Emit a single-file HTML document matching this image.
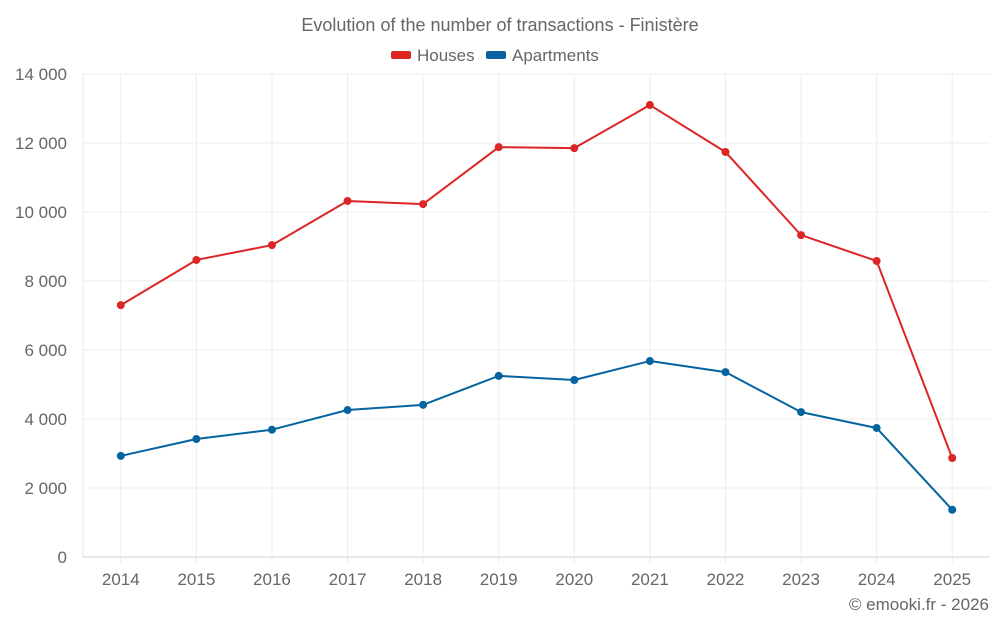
<!DOCTYPE html>
<html><head><meta charset="utf-8">
<style>
html,body{margin:0;padding:0;background:#fff;}
body{width:1000px;height:625px;overflow:hidden;font-family:"Liberation Sans",sans-serif;}
svg text{font-family:"Liberation Sans",sans-serif;fill:#666;}
</style></head>
<body>
<svg id="chart" width="1000" height="625" xmlns="http://www.w3.org/2000/svg">
  <text x="500" y="31" text-anchor="middle" font-size="18">Evolution of the number of transactions - Finistère</text>
  <g>
    <g>
      <rect x="391" y="51" width="20" height="8" rx="2" fill="#dc2626"></rect>
      <text x="417" y="61" font-size="17">Houses</text>
    </g>
    <g>
      <rect x="486" y="51" width="20" height="8" rx="2" fill="#05649f"></rect>
      <text x="512" y="61" font-size="17">Apartments</text>
    </g>
  </g>
  <g id="grid"></g>
  <g id="axes"></g>
  <g id="series"></g>
  <text x="989" y="610" text-anchor="end" font-size="17">© emooki.fr - 2026</text>
</svg>
<script>
const categories = ["2014","2015","2016","2017","2018","2019","2020","2021","2022","2023","2024","2025"];
const housesValues = [7300, 8610, 9040, 10320, 10230, 11880, 11850, 13100, 11740, 9330, 8580, 2870];
const apartmentsValues = [2930, 3420, 3690, 4260, 4410, 5250, 5130, 5680, 5360, 4200, 3740, 1370];
const yTicks = [0, 2000, 4000, 6000, 8000, 10000, 12000, 14000];
const yTickLabels = ["0", "2 000", "4 000", "6 000", "8 000", "10 000", "12 000", "14 000"];

const NS = "http://www.w3.org/2000/svg";
const plotLeft = 83, plotRight = 990, plotTop = 74, plotBottom = 557, yMax = 14000;
const band = (plotRight - plotLeft) / categories.length;
function xPos(i){ return plotLeft + band * (i + 0.5); }
function yPos(v){ return plotBottom - (v / yMax) * (plotBottom - plotTop); }
function mk(tag, attrs, parent){
  const e = document.createElementNS(NS, tag);
  for (const k in attrs) e.setAttribute(k, attrs[k]);
  parent.appendChild(e);
  return e;
}
const gridG = document.getElementById('grid');
const axesG = document.getElementById('axes');
const seriesG = document.getElementById('series');

const edge = mk('line', {x1:plotLeft, x2:plotLeft, y1:plotTop, y2:plotBottom, stroke:'#e8e8e8', 'stroke-width':1}, gridG);



yTicks.forEach((t, i) => {
  const y = yPos(t);
  const l = mk('line', {x1:plotLeft, x2:plotRight, y1:y, y2:y, stroke: t === 0 ? '#d0d0d0' : '#ececec', 'stroke-width':1}, gridG);
  
  
  const tx = mk('text', {x:67, y:y+6, 'text-anchor':'end', 'font-size':17}, axesG);
  tx.textContent = yTickLabels[i];
  
  
});
categories.forEach((c, i) => {
  const l = mk('line', {x1:xPos(i), x2:xPos(i), y1:plotTop, y2:plotBottom+6, stroke:'#ececec', 'stroke-width':1}, gridG);
  
  
  const tx = mk('text', {x:xPos(i), y:585, 'text-anchor':'middle', 'font-size':17}, axesG);
  tx.textContent = c;
  
  
});

function drawSeries(vals, color, name){
  const g = mk('g', {}, seriesG);
  
  
  const pts = vals.map((v, i) => xPos(i) + ',' + yPos(v)).join(' ');
  const pl = mk('polyline', {points:pts, fill:'none', stroke:color, 'stroke-width':2, 'stroke-linejoin':'round'}, g);
  
  
  vals.forEach((v, i) => {
    const c = mk('circle', {cx:xPos(i), cy:yPos(v), r:4, fill:color}, g);
    
    
  });
}
drawSeries(housesValues, '#dc2626', 'houses');
drawSeries(apartmentsValues, '#05649f', 'apartments');
</script>
</body></html>
